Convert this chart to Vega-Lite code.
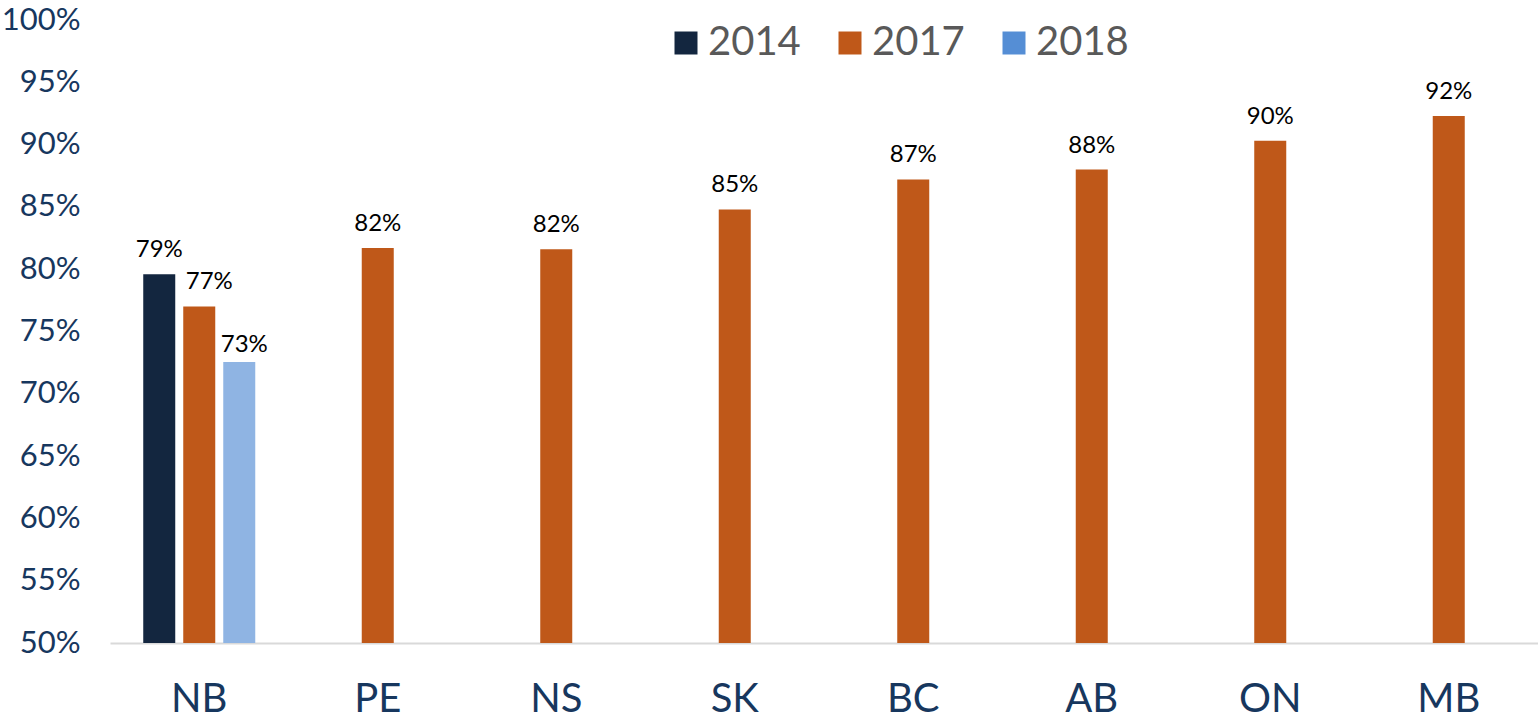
{
  "$schema": "https://vega.github.io/schema/vega-lite/v6.json",
  "width": 1428,
  "height": 623,
  "autosize": {"type": "none"},
  "padding": {"left": 110, "top": 20, "right": 0, "bottom": 77},
  "background": "white",
  "config": {
    "view": {"stroke": null},
    "font": "Lato"
  },
  "data": {
    "values": [
      {"province": "NB", "year": "2014", "value": 0.796, "label": "79%"},
      {"province": "NB", "year": "2017", "value": 0.770, "label": "77%"},
      {"province": "NB", "year": "2018", "value": 0.7255, "label": "73%"},
      {"province": "PE", "year": "2017", "value": 0.817, "label": "82%"},
      {"province": "NS", "year": "2017", "value": 0.816, "label": "82%"},
      {"province": "SK", "year": "2017", "value": 0.848, "label": "85%"},
      {"province": "BC", "year": "2017", "value": 0.872, "label": "87%"},
      {"province": "AB", "year": "2017", "value": 0.880, "label": "88%"},
      {"province": "ON", "year": "2017", "value": 0.903, "label": "90%"},
      {"province": "MB", "year": "2017", "value": 0.923, "label": "92%"}
    ]
  },
  "encoding": {
    "x": {
      "field": "province",
      "type": "nominal",
      "sort": ["NB", "PE", "NS", "SK", "BC", "AB", "ON", "MB"],
      "scale": {"paddingInner": 0.3725, "paddingOuter": 0.18625},
      "axis": {
        "title": null,
        "labelAngle": 0,
        "labelFontSize": 40,
        "labelColor": "#17375E",
        "labelPadding": 36,
        "ticks": false,
        "domainColor": "#D9D9D9",
        "domainWidth": 2,
        "grid": false
      }
    },
    "xOffset": {
      "field": "year",
      "type": "nominal",
      "scale": {"domain": ["2014", "2017", "2018"], "paddingInner": 0.2, "paddingOuter": 0}
    },
    "y": {
      "field": "value",
      "type": "quantitative",
      "scale": {"domain": [0.5, 1.0], "zero": false, "nice": false, "clamp": true},
      "axis": {
        "title": null,
        "format": ".0%",
        "values": [0.5, 0.55, 0.6, 0.65, 0.7, 0.75, 0.8, 0.85, 0.9, 0.95, 1.0],
        "labelFontSize": 31,
        "labelColor": "#17375E",
        "labelPadding": 30,
        "ticks": false,
        "domain": false,
        "grid": false
      }
    }
  },
  "layer": [
    {
      "mark": {"type": "bar"},
      "encoding": {
        "color": {
          "condition": {"test": "datum.year === '2018'", "value": "#8FB4E3"},
          "field": "year",
          "type": "nominal",
          "scale": {"domain": ["2014", "2017", "2018"], "range": ["#13263F", "#BF5819", "#558ED5"]},
          "legend": {
            "title": null,
            "orient": "none",
            "direction": "horizontal",
            "legendX": 556,
            "legendY": 3,
            "symbolType": "square",
            "symbolSize": 529,
            "symbolStrokeWidth": 0,
            "symbolOpacity": 1,
            "labelFontSize": 40,
            "labelColor": "#595959",
            "labelOffset": 2,
            "columnPadding": 29,
            "padding": 0
          }
        }
      }
    },
    {
      "transform": [{"filter": "!(datum.province === 'NB' && datum.year !== '2014')"}],
      "mark": {"type": "text", "baseline": "alphabetic", "dy": -17, "fontSize": 24, "color": "#000000"},
      "encoding": {
        "text": {"field": "label", "type": "nominal"}
      }
    },
    {
      "transform": [{"filter": "datum.province === 'NB' && datum.year === '2017'"}],
      "mark": {"type": "text", "baseline": "alphabetic", "dy": -18, "dx": 10, "fontSize": 24, "color": "#000000"},
      "encoding": {
        "text": {"field": "label", "type": "nominal"}
      }
    },
    {
      "transform": [{"filter": "datum.province === 'NB' && datum.year === '2018'"}],
      "mark": {"type": "text", "baseline": "alphabetic", "dy": -10, "dx": 5, "fontSize": 24, "color": "#000000"},
      "encoding": {
        "text": {"field": "label", "type": "nominal"}
      }
    }
  ]
}
